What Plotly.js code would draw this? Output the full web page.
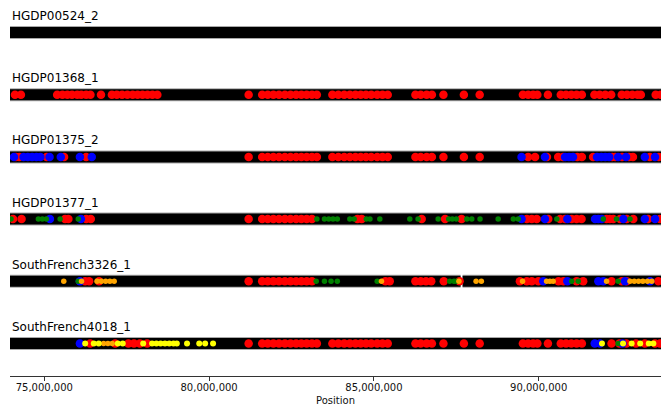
<!DOCTYPE html>
<html>
<head>
<meta charset="utf-8">
<script src="https://cdn.plot.ly/plotly-3.0.1.min.js"></script>
<style>
  html, body { margin: 0; padding: 0; background: #ffffff; }
  #chart { width: 661px; height: 408px; }
</style>
</head>
<body>
<div id="chart"></div>
<script>
// Positions are stored in megabases and converted to base pairs when plotted.
const MB = 1e6;

const samples = ["HGDP00524_2", "HGDP01368_1", "HGDP01375_2", "HGDP01377_1", "SouthFrench3326_1", "SouthFrench4018_1"];

// Covered stretches of each haplotype (start/end pairs, Mb).
const coverageStart = [[73.90], [73.90], [73.90], [73.90], [73.90, 87.69], [73.90]];
const coverageEnd   = [[93.80], [93.80], [93.80], [93.80], [87.63, 93.80], [93.80]];

// Ancestry calls per haplotype, one list per colour (Mb).
const redPos = [
  [],
  [74.11, 74.29, 75.39, 75.55, 75.70, 75.84, 76.00, 76.12, 76.27, 76.40, 76.72, 77.05, 77.20, 77.36, 77.52,
   77.68, 77.83, 77.98, 78.13, 78.28, 78.43, 81.20, 81.61, 81.78, 81.95, 82.12, 82.30, 82.47, 82.64, 82.80,
   82.96, 83.12, 83.27, 83.74, 83.92, 84.10, 84.27, 84.44, 84.60, 84.76, 84.92, 85.10, 85.26, 85.42, 86.26,
   86.42, 86.60, 86.76, 87.11, 87.73, 88.21, 89.52, 89.68, 89.83, 89.96, 90.28, 90.67, 90.83, 90.99, 91.15,
   91.31, 91.69, 91.85, 92.02, 92.20, 92.52, 92.68, 92.84, 93.00, 93.10, 93.55, 93.70],
  [74.14, 74.24, 75.07, 75.60, 76.27, 81.20, 81.61, 81.78, 81.95, 82.12, 82.30, 82.47, 82.64, 82.80, 82.96,
   83.12, 83.27, 83.74, 83.92, 84.10, 84.27, 84.44, 84.60, 84.76, 84.92, 85.10, 85.26, 85.42, 86.26, 86.42,
   86.60, 86.76, 87.11, 87.73, 88.21, 89.68, 89.89, 90.25, 90.59, 90.74, 91.17, 91.31, 91.65, 92.23, 92.32,
   92.53, 92.74, 92.86, 93.37, 93.65],
  [74.05, 74.31, 75.63, 75.73, 76.27, 76.41, 81.20, 81.61, 81.78, 81.95, 82.12, 82.30, 82.47, 82.64, 82.80,
   82.96, 83.12, 84.50, 84.63, 86.45, 87.16, 87.66, 89.64, 89.79, 89.94, 90.29, 90.65, 90.80, 91.00, 91.15,
   91.30, 92.06, 92.16, 92.26, 92.47, 92.67, 92.87, 93.32, 93.68],
  [76.24, 76.36, 76.66, 81.20, 81.61, 81.78, 81.95, 82.12, 82.30, 82.47, 82.64, 82.80, 82.96, 83.12, 85.35,
   85.48, 86.26, 86.42, 86.58, 86.74, 87.12, 87.60, 89.43, 89.64, 89.79, 89.99, 90.60, 90.75, 91.15, 91.35,
   92.21, 92.52, 92.67, 93.63],
  [76.39, 77.15, 77.55, 77.72, 77.90, 78.12, 81.20, 81.61, 81.78, 81.95, 82.12, 82.30, 82.47, 82.64, 82.80,
   82.96, 83.12, 83.27, 83.74, 83.92, 84.10, 84.27, 84.44, 84.60, 84.76, 84.92, 85.10, 85.26, 85.42, 86.26,
   86.42, 86.60, 86.76, 87.11, 87.73, 88.21, 89.52, 89.68, 89.83, 89.96, 90.28, 90.67, 90.83, 90.99, 91.15,
   91.31, 92.21, 92.45, 92.66, 92.95, 93.22, 93.53, 93.68]
];

const bluePos = [
  [],
  [],
  [74.08, 74.37, 74.50, 74.63, 74.76, 74.88, 75.16, 75.50, 76.08, 76.44, 89.48, 90.19, 90.80, 90.92, 91.04,
   91.77, 91.90, 92.02, 92.14, 92.41, 92.65, 93.22, 93.53],
  [75.17, 76.11, 89.48, 90.19, 90.87, 91.71, 91.81, 91.91, 92.57, 93.22, 93.53],
  [76.08, 90.14, 90.87, 91.81, 91.96, 92.62, 93.38],
  [76.08, 91.70, 91.86, 92.54]
];

const greenPos = [
  [],
  [],
  [],
  [73.99, 74.82, 74.94, 75.06, 75.48, 76.03, 83.27, 83.50, 83.63, 83.76, 83.89, 84.27, 84.40, 84.77, 84.88,
   85.18, 86.09, 86.34, 86.95, 87.27, 87.38, 87.50, 87.82, 87.97, 88.22, 88.77, 89.23, 89.38, 90.55, 91.96,
   92.36, 92.77],
  [76.03, 83.25, 83.50, 83.70, 83.89, 85.10, 87.30, 87.43, 87.52, 91.00, 91.20, 92.41],
  [92.41]
];

const orangePos = [
  [],
  [],
  [],
  [],
  [75.59, 76.13, 76.60, 76.73, 76.86, 76.99, 77.12, 85.23, 87.58, 88.10, 88.26, 89.51, 90.24, 90.34, 90.44,
   92.06, 92.77, 92.90, 93.03, 93.16, 93.30, 93.43],
  [76.80, 76.93, 77.06]
];

const yellowPos = [
  [],
  [],
  [],
  [],
  [],
  [76.24, 76.50, 76.65, 77.23, 77.38, 78.00, 78.27, 78.40, 78.53, 78.66, 78.79, 78.92, 79.02, 79.33, 79.70,
   79.88, 80.12, 91.92, 92.56, 92.82, 93.08, 93.34, 93.48]
];

const tickValsMb = [75, 80, 85, 90];
const xRangeMb = [73.959, 93.711];

const dotStyles = [
  { list: redPos,    color: "#ff0000", size: 8.5 },
  { list: bluePos,   color: "#0000ff", size: 8.5 },
  { list: greenPos,  color: "#008000", size: 5.5 },
  { list: orangePos, color: "#ffa500", size: 5.5 },
  { list: yellowPos, color: "#ffff00", size: 6 }
];

const traces = [];

// Haplotype bands: a grey outline under a black bar, broken where coverage stops.
samples.forEach((name, k) => {
  const xs = [], ys = [];
  coverageStart[k].forEach((s, i) => {
    if (i > 0) { xs.push(null); ys.push(null); }
    xs.push(s * MB, coverageEnd[k][i] * MB);
    ys.push(k, k);
  });
  traces.push({ type: "scatter", mode: "lines", x: xs, y: ys, connectgaps: false,
    line: { color: "#a8a8a8", width: 13 }, hoverinfo: "skip", showlegend: false });
  traces.push({ type: "scatter", mode: "lines", x: xs, y: ys, connectgaps: false,
    line: { color: "#000000", width: 11 }, hoverinfo: "skip", showlegend: false });
});

// Ancestry dots, colour by colour so later colours sit on top.
dotStyles.forEach(st => {
  st.list.forEach((pos, k) => {
    if (!pos.length) return;
    traces.push({
      type: "scatter", mode: "markers",
      x: pos.map(p => p * MB), y: pos.map(() => k),
      marker: { color: st.color, size: st.size, line: { width: 0 } },
      hoverinfo: "x", showlegend: false
    });
  });
});

const annotations = samples.map((name, k) => ({
  text: name, xref: "paper", x: 0, xanchor: "left", xshift: 0,
  yref: "y", y: k, yanchor: "middle", yshift: 16.5,
  showarrow: false, font: { family: "DejaVu Sans", size: 12, color: "#000000" }
}));

const layout = {
  width: 661, height: 408,
  margin: { l: 10, r: 0, t: 0, b: 32 },
  paper_bgcolor: "#ffffff", plot_bgcolor: "#ffffff",
  font: { family: "DejaVu Sans", size: 10, color: "#000000" },
  xaxis: {
    range: xRangeMb.map(v => v * MB),
    tickvals: tickValsMb.map(v => v * MB),
    tickformat: ",d",
    showline: true, linecolor: "#333333", linewidth: 1,
    ticks: "outside", ticklen: 3.5, tickwidth: 1, tickcolor: "#333333",
    ticklabelstandoff: -2,
    showgrid: false, zeroline: false,
    tickfont: { family: "DejaVu Sans", size: 10, color: "#111111" },
    title: { text: "Position", font: { family: "DejaVu Sans", size: 10, color: "#111111" }, standoff: 5 },
    automargin: false, fixedrange: true
  },
  yaxis: {
    range: [5.5225, -0.5225], visible: false, showgrid: false, zeroline: false, fixedrange: true
  },
  annotations: annotations,
  showlegend: false
};

Plotly.newPlot("chart", traces, layout, { displayModeBar: false, staticPlot: true });
</script>
</body>
</html>
